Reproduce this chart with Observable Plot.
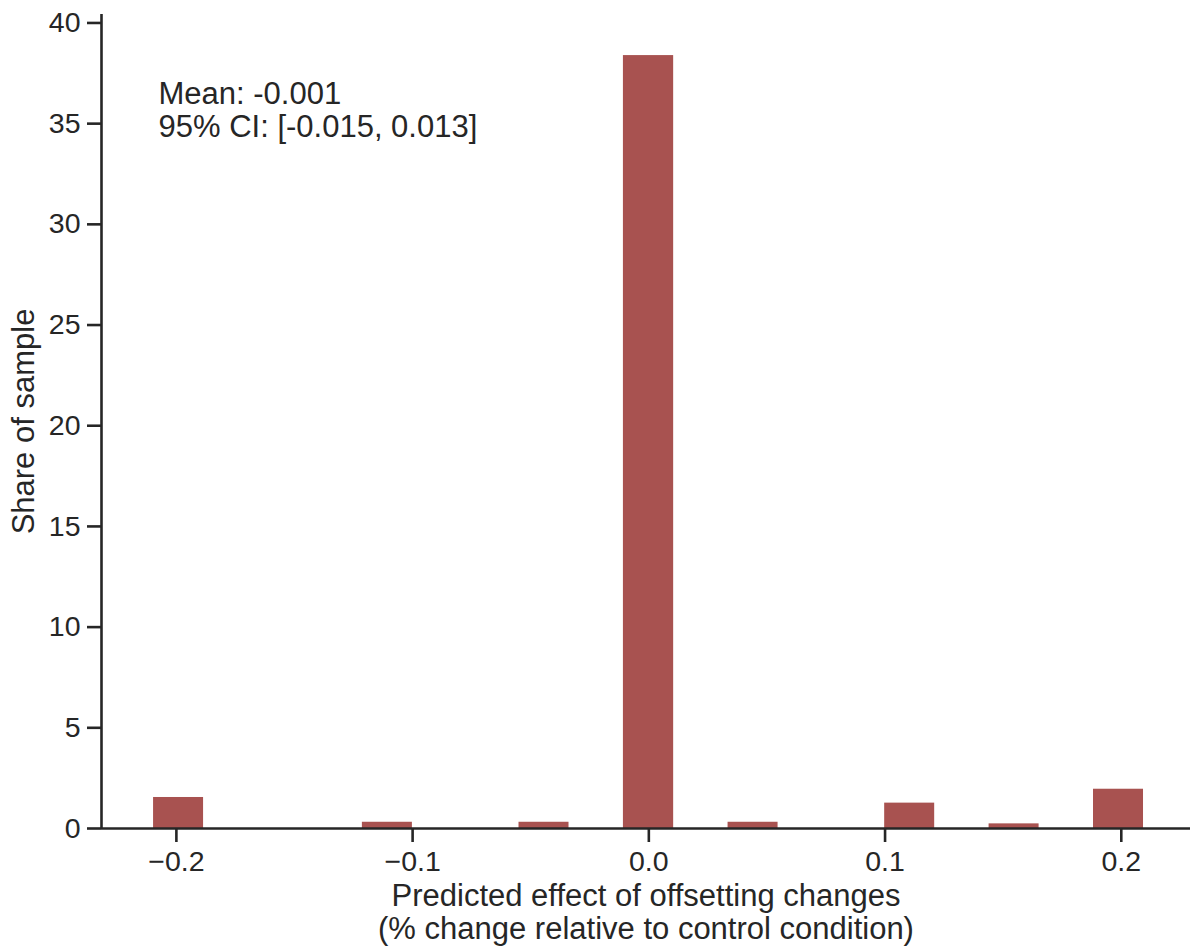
<!DOCTYPE html>
<html>
<head>
<meta charset="utf-8">
<script src="https://cdn.jsdelivr.net/npm/d3@7"></script>
<script src="https://cdn.jsdelivr.net/npm/@observablehq/plot@0.6"></script>
<style>
  html, body { margin: 0; padding: 0; background: #ffffff; }
  #chart { width: 1190px; height: 950px; }
</style>
</head>
<body>
<div id="chart"></div>
<script>
// Histogram bins (only non-empty bins), lower & upper edges, share of sample (%)
const binLow  = [-0.2100, -0.1216, -0.0553, -0.0111, 0.0332, 0.0995, 0.1437, 0.1879];
const binHigh = [-0.1879, -0.0995, -0.0332, 0.0111, 0.0553, 0.1216, 0.1658, 0.2100];
const share   = [1.54, 0.31, 0.31, 38.38, 0.31, 1.26, 0.23, 1.95];

const xTicks = [-0.2, -0.1, 0.0, 0.1, 0.2];
const yTicks = [0, 5, 10, 15, 20, 25, 30, 35, 40];
const xDomain = [-0.2317, 0.2293];
const yDomain = [0, 40.42];

const xLabel = "Predicted effect of offsetting changes\n(% change relative to control condition)";
const yLabel = "Share of sample";
const annotation = "Mean: -0.001\n95% CI: [-0.015, 0.013]";

const bins = binLow.map((lo, i) => ({lo, hi: binHigh[i], share: share[i]}));

const ink = "#262626";
const barColor = "#a85250";
const tickFs = 28.5;
const labelFs = 31;

const chart = Plot.plot({
  width: 1190,
  height: 950,
  marginLeft: 101,
  marginRight: 0,
  marginTop: 14,
  marginBottom: 122,
  style: {
    fontFamily: "'Liberation Sans', Arial, Helvetica, sans-serif",
    fontSize: tickFs + "px",
    color: ink,
    background: "#ffffff"
  },
  x: {domain: xDomain},
  y: {domain: yDomain},
  marks: [
    Plot.rectY(bins, {x1: "lo", x2: "hi", y: "share", fill: barColor, insetLeft: 0.8, insetRight: 1.4}),
    Plot.ruleY([yDomain[0]], {stroke: ink, strokeWidth: 2.6}),
    Plot.ruleX([xDomain[0]], {stroke: ink, strokeWidth: 2.6}),
    Plot.axisX({
      ticks: xTicks,
      tickFormat: d3.format(".1f"),
      tickSize: 14,
      tickPadding: 8.7,
      strokeWidth: 2.6,
      stroke: ink,
      fill: ink,
      fontSize: tickFs,
      label: null
    }),
    Plot.axisY({
      ticks: yTicks,
      tickFormat: d => String(d),
      tickSize: 14,
      tickPadding: 7,
      strokeWidth: 2.6,
      stroke: ink,
      fill: ink,
      fontSize: tickFs,
      label: null
    }),
    Plot.text([annotation], {
      frameAnchor: "top-left",
      textAnchor: "start",
      lineAnchor: "bottom",
      lineHeight: 1.077,
      dx: 57,
      dy: 122.7,
      fontSize: labelFs,
      fill: ink
    }),
    Plot.text([xLabel], {
      frameAnchor: "bottom",
      textAnchor: "middle",
      lineAnchor: "bottom",
      lineHeight: 1.067,
      dy: 110.3,
      fontSize: labelFs,
      fill: ink
    }),
    Plot.text([yLabel], {
      frameAnchor: "left",
      textAnchor: "middle",
      lineAnchor: "bottom",
      rotate: -90,
      dx: -67.5,
      fontSize: labelFs,
      fill: ink
    })
  ]
});

document.getElementById("chart").appendChild(chart);
</script>
</body>
</html>
